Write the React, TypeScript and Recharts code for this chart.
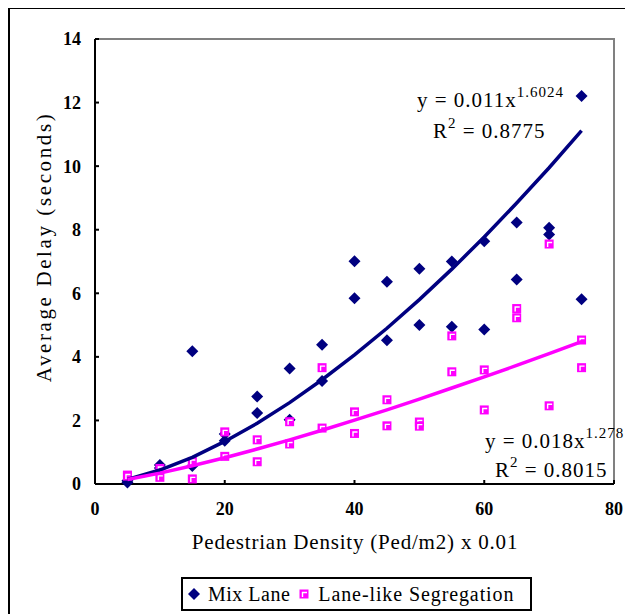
import React from "react";
import { ComposedChart, Scatter, XAxis, YAxis, ReferenceArea } from "recharts";

const density = [5, 10, 15, 20, 25, 30, 35, 40, 45, 50, 55, 60, 65, 70, 75];
const mixLaneHigh = [0.1, 0.6, 4.18, 1.57, 2.75, 3.63, 4.38, 7.01, 6.36, 6.77, 7.0, 7.64, 8.23, 8.06, 12.21];
const mixLaneLow = [0.05, 0.5, 0.57, 1.36, 2.23, 2.02, 3.24, 5.84, 4.52, 5.0, 4.95, 4.86, 6.43, 7.85, 5.81];
const segHigh = [0.28, 0.49, 0.71, 1.64, 1.39, 1.96, 3.66, 2.27, 2.65, 1.95, 4.66, 3.59, 5.52, 7.55, 4.53];
const segLow = [0.25, 0.21, 0.16, 0.87, 0.7, 1.26, 1.76, 1.59, 1.83, 1.82, 3.53, 2.33, 5.23, 2.46, 3.66];
const mixTrend = [0.145, 0.44, 0.84, 1.34, 1.91, 2.56, 3.28, 4.06, 4.9, 5.8, 6.76, 7.77, 8.84, 9.95, 11.12];
const segTrend = [0.141, 0.341, 0.573, 0.828, 1.1, 1.39, 1.69, 2.01, 2.33, 2.67, 3.02, 3.37, 3.73, 4.1, 4.48];
const xTicks = [0, 20, 40, 60, 80];
const yTicks = [0, 2, 4, 6, 8, 10, 12, 14];

const NAVY = "#000080";
const MAGENTA = "#FF00FF";
const FONT = "'Liberation Serif', serif";

const toPoints = (ys: number[]) => density.map((x, i) => ({ x, y: ys[i] }));
const mixPoints = [...toPoints(mixLaneHigh), ...toPoints(mixLaneLow)];
const segPoints = [...toPoints(segHigh), ...toPoints(segLow)];
const mixTrendPts = toPoints(mixTrend);
const segTrendPts = toPoints(segTrend);

const Diamond = (props: any) => {
  const { cx, cy } = props;
  if (cx == null || cy == null) return null;
  const r = 6;
  return <path d={`M${cx},${cy - r}L${cx + r},${cy}L${cx},${cy + r}L${cx - r},${cy}Z`} fill={NAVY} />;
};

const Square = (props: any) => {
  const { cx, cy } = props;
  if (cx == null || cy == null) return null;
  const h = 4.5;
  return (
    <g>
      <rect x={cx - h} y={cy - h} width={2 * h} height={2 * h} fill={MAGENTA} />
      <path d={`M${cx - 1.5},${cy + 3}L${cx - 1.5},${cy - 1.5}L${cx + 3},${cy - 1.5}`} stroke="#fff" strokeWidth={1.4} fill="none" />
    </g>
  );
};

const NoShape = () => null;

// Frame: only top and right edges of the plot area are drawn gray
const FrameShape = (props: any) => {
  const { x, y, width, height } = props;
  if (x == null) return null;
  return <path d={`M${x},${y}L${x + width},${y}L${x + width},${y + height}`} stroke="#808080" strokeWidth={2} fill="none" />;
};

const LegendBox = () => (
  <div
    style={{
      position: "absolute",
      left: 171,
      top: 568,
      boxSizing: "border-box",
      width: 351,
      height: 34,
      border: "2px solid #000",
      display: "flex",
      alignItems: "center",
      whiteSpace: "nowrap",
      fontFamily: FONT,
      fontSize: 20,
      color: "#000",
      background: "#fff",
    }}
  >
    <svg width={20} height={20} style={{ marginLeft: 1, flex: "none" }}>
      <Diamond cx={10} cy={10} />
    </svg>
    <span style={{ letterSpacing: 0.5, marginLeft: 4 }}>Mix Lane</span>
    <svg width={20} height={20} style={{ marginLeft: 4, flex: "none" }}>
      <Square cx={10} cy={10} />
    </svg>
    <span style={{ letterSpacing: 0.9, marginLeft: 4 }}>Lane-like Segregation</span>
  </div>
);

export default function App() {
  return (
    <div style={{ position: "relative", width: 625, height: 607, marginTop: -1, borderLeft: "2px solid #000", borderTop: "2px solid #000", boxSizing: "border-box" }}>
      <div style={{ position: "absolute", left: -2, top: -2 }}>
        <ComposedChart width={625} height={609} margin={{ top: 32, right: 19, left: 0, bottom: 0 }}>
          <XAxis
            type="number"
            dataKey="x"
            domain={[0, 80]}
            ticks={xTicks}
            height={132}
            axisLine={{ stroke: "#000", strokeWidth: 2 }}
            tickLine={{ stroke: "#000", strokeWidth: 2 }}
            tickSize={-4}
            tickMargin={22}
            tick={{ fill: "#000", fontFamily: FONT, fontSize: 18, fontWeight: "bold" }}
          />
          <YAxis
            type="number"
            dataKey="y"
            domain={[0, 14]}
            ticks={yTicks}
            width={87}
            axisLine={{ stroke: "#000", strokeWidth: 2 }}
            tickLine={{ stroke: "#000", strokeWidth: 2 }}
            tickSize={-4}
            tickMargin={18}
            tick={{ fill: "#000", fontFamily: FONT, fontSize: 18, fontWeight: "bold" }}
          />
          <ReferenceArea x1={0} x2={80} y1={0} y2={14} ifOverflow="visible" shape={<FrameShape />} />
          <Scatter name="Mix Lane" data={mixPoints} shape={<Diamond />} isAnimationActive={false} />
          <Scatter name="Lane-like Segregation" data={segPoints} shape={<Square />} isAnimationActive={false} />
          <Scatter data={mixTrendPts} shape={<NoShape />} line={{ stroke: NAVY, strokeWidth: 3.5 }} isAnimationActive={false} />
          <Scatter data={segTrendPts} shape={<NoShape />} line={{ stroke: MAGENTA, strokeWidth: 3.5 }} isAnimationActive={false} />
        </ComposedChart>
      </div>
      <LegendBox />
      <svg width={625} height={607} style={{ position: "absolute", left: -2, top: -2, pointerEvents: "none" }} fontFamily={FONT} fill="#000">
        <text x={38} y={240} fontSize={21} textAnchor="middle" dominantBaseline="middle" transform="rotate(-90 38 240)" letterSpacing={2.6}>
          Average Delay (seconds)
        </text>
        <text x={347} y={542} fontSize={21} textAnchor="middle" letterSpacing={0.8}>
          Pedestrian Density (Ped/m2) x 0.01
        </text>
        <text x={409} y={100} fontSize={21} letterSpacing={1}>
          y = 0.011x<tspan fontSize={15} dy={-10}>1.6024</tspan>
        </text>
        <text x={425} y={131} fontSize={21} letterSpacing={1}>
          R<tspan fontSize={15} dy={-10}>2</tspan><tspan dy={10}> = 0.8775</tspan>
        </text>
        <text x={477} y={441} fontSize={21} letterSpacing={1}>
          y = 0.018x<tspan fontSize={15} dy={-10}>1.278</tspan>
        </text>
        <text x={487} y={470} fontSize={21} letterSpacing={1}>
          R<tspan fontSize={15} dy={-10}>2</tspan><tspan dy={10}> = 0.8015</tspan>
        </text>
      </svg>
    </div>
  );
}
